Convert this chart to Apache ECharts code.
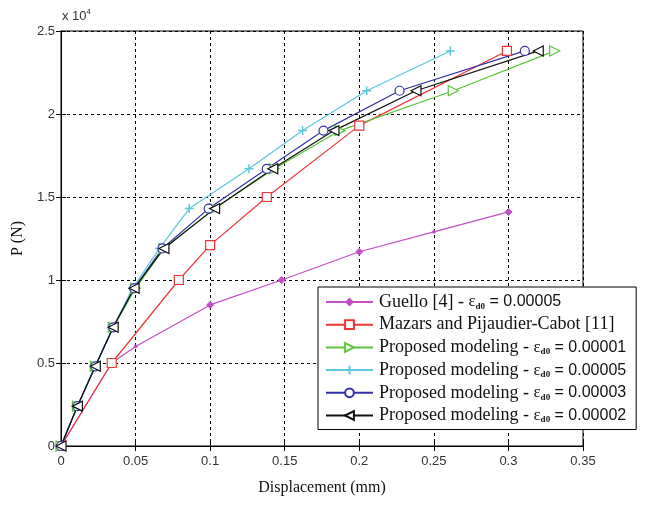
<!DOCTYPE html>
<html><head><meta charset="utf-8">
<script src="https://cdn.jsdelivr.net/npm/echarts@6/dist/echarts.min.js"></script>
<style>html,body{margin:0;padding:0;background:#fff}#c{width:649px;height:509px}</style>
</head><body><div id="c"></div>
<script>
// ---- data (displacement in mm, load in N) ----
const xTicks = [0, 0.05, 0.1, 0.15, 0.2, 0.25, 0.3, 0.35];
const xTickLabels = ['0', '0.05', '0.1', '0.15', '0.2', '0.25', '0.3', '0.35'];
const yTicks = [0, 5000, 10000, 15000, 20000, 25000];
const yTickLabels = ['0', '0.5', '1', '1.5', '2', '2.5'];

const guelloX = [0, 0.034, 0.05, 0.1, 0.148, 0.2, 0.25, 0.3];
const guelloY = [0, 5000, 6000, 8500, 10000, 11700, 12900, 14100];

const mazarsX = [0, 0.034, 0.079, 0.1, 0.138, 0.2, 0.299];
const mazarsY = [0, 5000, 10000, 12100, 15000, 19300, 23800];

const prop1X = [0, 0.011, 0.023, 0.035, 0.05, 0.069, 0.103, 0.143, 0.187, 0.263, 0.331];
const prop1Y = [0, 2400, 4800, 7150, 9500, 11900, 14300, 16700, 19000, 21400, 23800];

const prop5X = [0, 0.011, 0.023, 0.035, 0.048, 0.066, 0.086, 0.126, 0.162, 0.205, 0.261];
const prop5Y = [0, 2400, 4800, 7150, 9500, 11900, 14300, 16700, 19000, 21400, 23800];

const prop3X = [0, 0.011, 0.023, 0.035, 0.049, 0.068, 0.099, 0.138, 0.176, 0.227, 0.311];
const prop3Y = [0, 2400, 4800, 7150, 9500, 11900, 14300, 16700, 19000, 21400, 23800];

const prop2X = [0, 0.011, 0.023, 0.035, 0.049, 0.069, 0.103, 0.142, 0.183, 0.238, 0.32];
const prop2Y = [0, 2400, 4800, 7150, 9500, 11900, 14300, 16700, 19000, 21400, 23800];

const names = ['Guello', 'Mazars', 'P1', 'P5', 'P3', 'P2'];
const legendTexts = {
  Guello: '{t|Guello [4] - }{e|ε}{s|d0}{n| = 0.00005}',
  Mazars: '{t|Mazars and Pijaudier-Cabot [11]}',
  P1: '{t|Proposed modeling - }{e|ε}{s|d0}{n| = 0.00001}',
  P5: '{t|Proposed modeling - }{e|ε}{s|d0}{n| = 0.00005}',
  P3: '{t|Proposed modeling - }{e|ε}{s|d0}{n| = 0.00003}',
  P2: '{t|Proposed modeling - }{e|ε}{s|d0}{n| = 0.00002}'
};

const pair = (xs, ys) => xs.map((x, i) => [x, ys[i]]);
const plusPath = 'path://M5,0L5,10M0,5L10,5';

const chart = echarts.init(document.getElementById('c'), null, {renderer: 'canvas'});
function mk(name, xs, ys, color, symbol, size, rot, extra) {
  return Object.assign({
    name, type: 'line', data: pair(xs, ys), color,
    symbol, symbolSize: size, symbolRotate: rot || 0,
    showAllSymbol: true,
    lineStyle: {width: 1.2, color},
    itemStyle: {color: '#fff', borderColor: color, borderWidth: 1.2},
    emphasis: {disabled: true}, animation: false, z: 3
  }, extra || {});
}
const guelloData = pair(guelloX, guelloY).map((p, i) => (i === 2 || i === 6) ? {value: p, symbol: 'circle', symbolSize: 3} : p);

const series = [
  Object.assign(mk('Guello', guelloX, guelloY, '#c24fc4', 'diamond', 7), {data: guelloData, itemStyle: {color: '#c24fc4', borderColor: '#c24fc4'}}),
  mk('Mazars', mazarsX, mazarsY, '#ee3535', 'rect', 9),
  mk('P1', prop1X, prop1Y, '#5cc43c', 'triangle', 10, -90),
  mk('P5', prop5X, prop5Y, '#5bc8dc', plusPath, 9, 0, {itemStyle: {color: '#5bc8dc', borderColor: '#5bc8dc', borderWidth: 1.5}}),
  mk('P3', prop3X, prop3Y, '#3232a8', 'circle', 9),
  mk('P2', prop2X, prop2Y, '#111111', 'triangle', 10, 90)
];

const serif = 'Liberation Serif, Times New Roman, serif';
const sans = 'Liberation Sans, Arial, sans-serif';
const axisFont = {fontFamily: sans, fontSize: 13, color: '#333'};
chart.setOption({
  backgroundColor: '#fff',
  animation: false,
  grid: {left: 61, right: 66, top: 31, bottom: 63, show: true, borderColor: '#000', borderWidth: 1, backgroundColor: 'transparent'},
  xAxis: [{
    type: 'value', min: 0, max: 0.35, interval: 0.05,
    name: 'Displacement (mm)', nameLocation: 'middle', nameGap: 34,
    nameTextStyle: {fontFamily: serif, fontSize: 16, color: '#111'},
    axisLine: {show: true, onZero: false, lineStyle: {color: '#000', width: 1}},
    axisTick: {show: true, inside: true, length: 5, lineStyle: {color: '#000'}},
    axisLabel: Object.assign({margin: 9, formatter: v => { const i = xTicks.findIndex(t => Math.abs(t - v) < 1e-9); return i >= 0 ? xTickLabels[i] : ''; }}, axisFont),
    splitLine: {show: true, lineStyle: {color: '#000', type: [3, 3], width: 1}}
  }, {
    type: 'value', min: 0, max: 0.35, interval: 0.05, position: 'top',
    axisLine: {show: true, lineStyle: {color: '#000'}},
    axisTick: {show: true, inside: true, length: 5, lineStyle: {color: '#000'}},
    axisLabel: {show: false}, splitLine: {show: false}
  }],
  yAxis: [{
    type: 'value', min: 0, max: 25000, interval: 5000,
    name: 'P (N)', nameLocation: 'middle', nameGap: 33, nameRotate: 90,
    nameTextStyle: {fontFamily: serif, fontSize: 16, color: '#111'},
    axisLine: {show: true, onZero: false, lineStyle: {color: '#000', width: 1}},
    axisTick: {show: true, inside: true, length: 5, lineStyle: {color: '#000'}},
    axisLabel: Object.assign({margin: 6, formatter: v => { const i = yTicks.indexOf(v); return i >= 0 ? yTickLabels[i] : ''; }}, axisFont),
    splitLine: {show: true, lineStyle: {color: '#000', type: [3, 3], width: 1}}
  }, {
    type: 'value', min: 0, max: 25000, interval: 5000, position: 'right',
    axisLine: {show: true, lineStyle: {color: '#000'}},
    axisTick: {show: true, inside: true, length: 5, lineStyle: {color: '#000'}},
    axisLabel: {show: false}, splitLine: {show: false}
  }],
  legend: {
    data: names, orient: 'vertical', left: 318, top: 287,
    backgroundColor: '#fff', borderColor: '#000', borderWidth: 1,
    padding: [6, 10, 5, 7], itemGap: 4.7, itemWidth: 47, itemHeight: 11,
    selectedMode: false, z: 10,
    formatter: n => legendTexts[n],
    textStyle: {
      padding: [0, 0, 0, 1],
      rich: {
        t: {fontFamily: serif, fontSize: 18, lineHeight: 18, color: '#111'},
        e: {fontFamily: serif, fontSize: 17, lineHeight: 18, color: '#111'},
        s: {fontFamily: serif, fontSize: 9, lineHeight: 18, color: '#111', fontWeight: 'bold', verticalAlign: 'bottom', padding: [6, 0, 0, 0]},
        n: {fontFamily: sans, fontSize: 16, lineHeight: 18, color: '#111'}
      }
    }
  },
  graphic: [{
    type: 'text', left: 62, top: 8,
    style: {
      text: '{a|x 10}{b|4}',
      rich: {
        a: {fontFamily: sans, fontSize: 13, fill: '#333'},
        b: {fontFamily: sans, fontSize: 8, fill: '#333', verticalAlign: 'top', padding: [0, 0, 8, 0]}
      }
    }
  }],
  series
});
</script></body></html>
